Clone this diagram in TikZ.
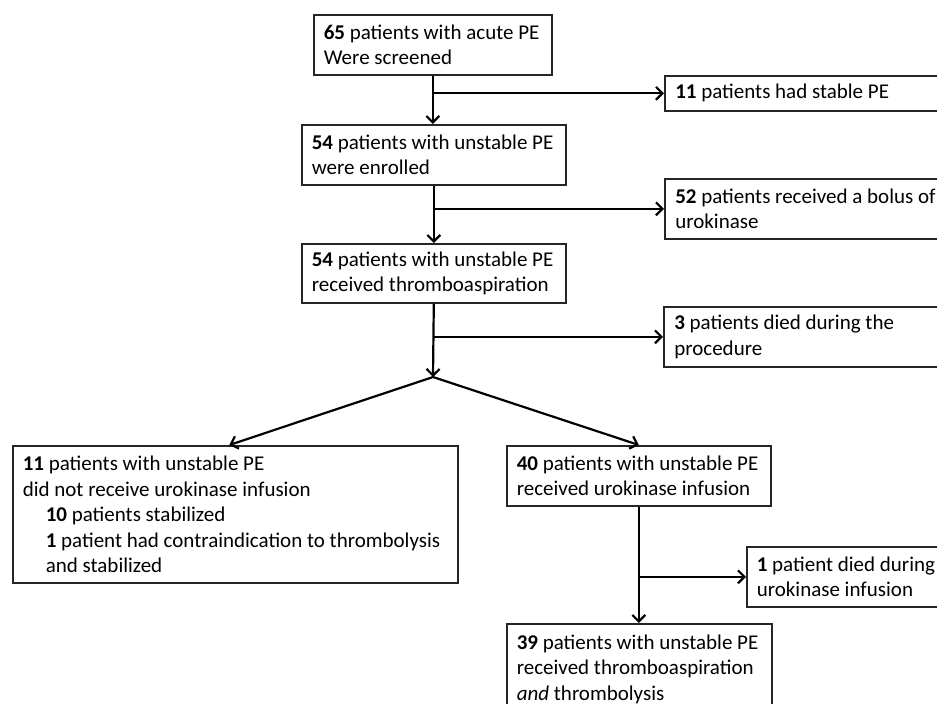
\documentclass[tikz,border=0pt]{standalone}
\usepackage{fontspec}
\setmainfont{Carlito}
\usetikzlibrary{arrows.meta}
\begin{document}
\begin{tikzpicture}[x=1pt,y=-1pt,
  box/.style={draw=black!85, line width=1.6pt, anchor=north west, align=flush left,
    inner xsep=10pt, inner ysep=0pt, font=\fontsize{21pt}{25.5pt}\selectfont},
  arr/.style={line width=2.2pt, -{Straight Barb[length=6.5pt,width=13pt,line width=2.2pt]}}]
\useasboundingbox (0,0) rectangle (937,704);
\clip (0,0) rectangle (937,704);
\fill[white] (0,0) rectangle (937,704);
% boxes
\node[box, minimum width=238pt, minimum height=60pt, text width=218pt] (B1) at (313,14)
  {\textbf{65} patients with acute PE\\Were screened};
\node[box, minimum width=264pt, minimum height=60pt, text width=244pt] (B2) at (301,124)
  {\textbf{54} patients with unstable PE\\were enrolled};
\node[box, minimum width=264pt, minimum height=59pt, text width=244pt] (B3) at (301,243)
  {\textbf{54} patients with unstable PE\\received thromboaspiration};
\node[box, minimum width=300pt, minimum height=35pt, text width=279pt, inner xsep=10.5pt] (S1) at (664,75)
  {\textbf{11} patients had stable PE};
\node[box, minimum width=300pt, minimum height=60pt, text width=279pt, inner xsep=10.5pt] (S2) at (664,178)
  {\textbf{52} patients received a bolus of\\urokinase};
\node[box, minimum width=300pt, minimum height=60pt, text width=279pt, inner xsep=10.5pt] (S3) at (663,306)
  {\textbf{3} patients died during the\\procedure};
\node[box, minimum width=445pt, minimum height=137pt, text width=425pt] (L) at (12,445)
  {\textbf{11} patients with unstable PE\\
   did not receive urokinase infusion\\
   \hspace*{23pt}\textbf{10} patients stabilized\\
   \hspace*{23pt}\mbox{\textbf{1} patient had contraindication to thrombolysis}\\
   \hspace*{23pt}and stabilized};
\node[box, minimum width=264pt, minimum height=60pt, text width=244pt] (R) at (506,445)
  {\textbf{40} patients with unstable PE\\received urokinase infusion};
\node[box, minimum width=260pt, minimum height=60pt, text width=240pt] (D) at (746,546)
  {\textbf{1} patient died during\\urokinase infusion};
\node[box, minimum width=265pt, minimum height=91pt, text width=245pt] (F) at (506,623)
  {\textbf{39} patients with unstable PE\\received thromboaspiration\\\textit{and} thrombolysis};
% connectors
\coordinate (split) at (433,377);
\draw[arr] (B1.south) -- (B1.south |- B2.north);
\draw[arr] (B1.south |- S1.west) -- (S1.west);
\draw[arr] (B2.south) -- (B2.south |- B3.north);
\draw[arr] (B2.south |- S2.west) -- (S2.west);
\draw[arr] (B3.south) -- (split);
\draw[arr] (B3.south |- S3.west) -- (S3.west);
\draw[arr] (split) -- ([xshift=-6pt]L.north);
\draw[arr] (split) -- (R.north);
\draw[arr] (R.south) -- (R.south |- F.north);
\draw[arr] (R.south |- D.west) -- (D.west);
\end{tikzpicture}
\end{document}
